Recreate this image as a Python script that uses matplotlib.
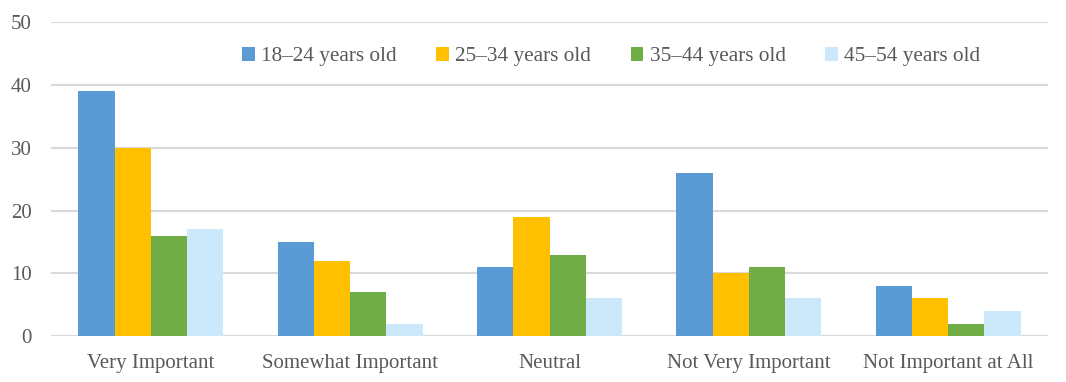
import matplotlib.pyplot as plt
import numpy as np

categories = ["Very Important", "Somewhat Important", "Neutral",
              "Not Very Important", "Not Important at All"]
series_names = ["18–24 years old", "25–34 years old", "35–44 years old", "45–54 years old"]
age_18_24 = [39, 15, 11, 26, 8]
age_25_34 = [30, 12, 19, 10, 6]
age_35_44 = [16, 7, 13, 11, 2]
age_45_54 = [17, 2, 6, 6, 4]
colors = ["#5B9BD5", "#FFC000", "#70AD47", "#CCE8FB"]

plt.rcParams['font.family'] = ['Liberation Serif', 'DejaVu Serif']

fig = plt.figure(figsize=(10.66, 3.82), dpi=100)
ax = fig.add_axes([0.048, 0.12, 0.935, 0.822])

x = np.arange(len(categories))
w = 0.182
all_series = [age_18_24, age_25_34, age_35_44, age_45_54]
for i, (vals, name, c) in enumerate(zip(all_series, series_names, colors)):
    ax.bar(x + (i - 1.5) * w, vals, w, color=c, label=name,
           linewidth=0, zorder=3)

ax.set_ylim(0, 50)
ax.set_xlim(-0.5, 4.5)
ax.set_yticks(range(0, 51, 10))
ax.set_xticks(x)
ax.set_xticklabels(categories)
ax.yaxis.grid(True, color="#D9D9D9", linewidth=1.5, zorder=0)
for s in ax.spines.values():
    s.set_visible(False)
ax.tick_params(axis="both", length=0, labelsize=15, colors="#595959")
ax.tick_params(axis="y", pad=14)
ax.tick_params(axis="x", pad=13)

ax.legend(loc="center", bbox_to_anchor=(0.562, 0.89), ncol=4, frameon=False,
          fontsize=15.3, labelcolor="#595959", handlelength=0.6, handleheight=0.6,
          handletextpad=0.3, columnspacing=1.85)

fig.savefig("out.png", dpi=100)
